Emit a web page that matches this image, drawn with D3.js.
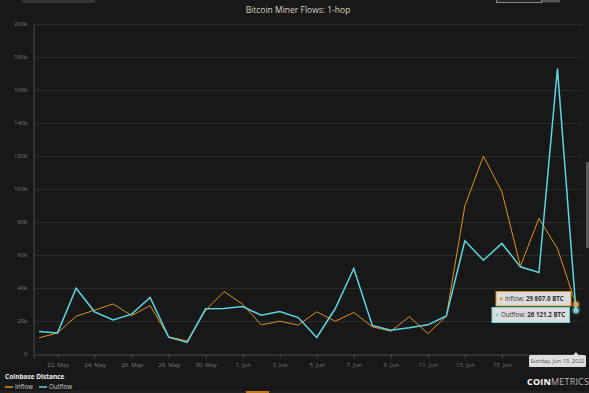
<!DOCTYPE html>
<html>
<head>
<meta charset="utf-8">
<script src="https://cdn.jsdelivr.net/npm/d3@7"></script>
<style>
  html, body { margin: 0; padding: 0; background: #181818; }
  svg { display: block; font-family: "Open Sans", "DejaVu Sans", sans-serif; }
</style>
</head>
<body>
<svg id="chart" width="589" height="393"></svg>
<script>
// Bitcoin miner flows (1-hop), daily, 21 May – 19 Jun 2022
const startDate = '2022-05-21';
const inflow = [9500, 12500, 22600, 26300, 30100, 23000, 29100, 10100, 7700, 26300,
  37600, 29900, 17400, 19600, 17300, 25300, 19600, 24900, 16200, 13500,
  22400, 12100, 22600, 89600, 119800, 98100, 53000, 82000, 63700, 29807.0];
const outflow = [13300, 12500, 39600, 25300, 20400, 23900, 34000, 9900, 6700, 27100,
  27300, 28500, 23200, 25500, 21800, 9700, 27300, 51600, 17000, 14100,
  15600, 17400, 22800, 68400, 56600, 66800, 52600, 49200, 173000, 26121.2];
const yTicks = [0, 20000, 40000, 60000, 80000, 100000, 120000, 140000, 160000, 180000, 200000];
const seriesNames = ['Inflow', 'Outflow'];
const seriesColors = ['#e0901c', '#5cd6e2'];

const DAY = 864e5;
const t0 = new Date(startDate + 'T00:00:00Z');
const dates = inflow.map((_, i) => new Date(t0.getTime() + i * DAY));

const svg = d3.select('#chart');
const W = 589, H = 393;
const margin = { left: 33.5, right: 7.5, top: 24, bottom: 39.5 };

svg.append('rect').attr('width', W).attr('height', H).attr('fill', '#181818');

const x = d3.scaleUtc()
  .domain([new Date(dates[0] - 0.3 * DAY), new Date(+dates[dates.length - 1] + 0.3 * DAY)])
  .range([margin.left, W - margin.right]);
const y = d3.scaleLinear()
  .domain([0, 200000])
  .range([H - margin.bottom, margin.top]);

// top chrome
svg.append('rect').attr('x', 22).attr('y', -1).attr('width', 73).attr('height', 4).attr('fill', '#343434');
svg.append('rect').attr('x', 496.5).attr('y', -1).attr('width', 45).attr('height', 3.5)
  .attr('fill', '#262626').attr('stroke', '#8a8a8a').attr('stroke-width', 1);
svg.append('rect').attr('x', 542).attr('y', -1).attr('width', 18).attr('height', 3.5).attr('fill', '#555');
// scrollbar
svg.append('rect').attr('x', 586).attr('y', 162).attr('width', 3).attr('height', 86).attr('fill', '#5a5a5a');

// title
svg.append('text')
  .attr('x', 298).attr('y', 13)
  .attr('text-anchor', 'middle')
  .attr('fill', '#d9d4c2')
  .style('font-size', '8.5px')
  .text('Bitcoin Miner Flows: 1-hop');

// gridlines
svg.append('g')
  .selectAll('line')
  .data(yTicks.slice(1))
  .join('line')
  .attr('x1', margin.left).attr('x2', W - margin.right)
  .attr('y1', d => Math.round(y(d)) + 0.5).attr('y2', d => Math.round(y(d)) + 0.5)
  .attr('stroke', '#2b2b2b').attr('stroke-width', 1);

// y axis
const yAxis = svg.append('g')
  .attr('transform', `translate(${margin.left},0)`)
  .call(d3.axisLeft(y).tickValues(yTicks).tickSize(0).tickPadding(6)
    .tickFormat(d => d === 0 ? '0' : (d / 1000) + 'k'));
yAxis.select('.domain').attr('stroke', '#4a4a4a');
yAxis.selectAll('text').attr('fill', '#7a7a7a').style('font-size', '6px')
  .style('font-family', '"Open Sans", sans-serif');

// x axis (labels under the date tooltip are hidden, as in the source)
const last = dates.length - 1;
const xTicks = d3.range(1, dates.length, 2).map(i => dates[i]);
const hideFrom = dates[last - 2];
const fmtDay = d3.utcFormat('%-d');
const fmtMon = d3.utcFormat('%b');
const xAxis = svg.append('g')
  .attr('transform', `translate(0,${Math.round(y(0)) + 0.5})`)
  .call(d3.axisBottom(x).tickValues(xTicks).tickSize(4).tickPadding(4)
    .tickFormat(d => d >= hideFrom ? '' : fmtDay(d) + '. ' + fmtMon(d)));
xAxis.select('.domain').attr('stroke', '#4a4a4a');
xAxis.selectAll('.tick line').attr('stroke', '#4a4a4a');
xAxis.selectAll('text').attr('fill', '#7a7a7a').style('font-size', '6px')
  .style('font-family', '"Open Sans", sans-serif');

// lines
const line = d3.line().x((d, i) => x(dates[i])).y(d => y(d));
[inflow, outflow].forEach((series, k) => {
  svg.append('path')
    .datum(series)
    .attr('fill', 'none')
    .attr('stroke', seriesColors[k])
    .attr('stroke-width', k === 0 ? 1 : 1.5)
    .attr('stroke-linejoin', 'miter')
    .attr('d', line);
});

// hover markers on last point
[inflow, outflow].forEach((series, k) => {
  svg.append('circle').attr('cx', x(dates[last])).attr('cy', y(series[last]))
    .attr('r', 4.5).attr('fill', seriesColors[k]).attr('opacity', 0.3);
  svg.append('circle').attr('cx', x(dates[last])).attr('cy', y(series[last]))
    .attr('r', 2.2).attr('fill', seriesColors[k]).attr('stroke', '#fff').attr('stroke-width', 0.6);
});

// tooltips
const fmtNum = v => d3.format(',.1f')(v).replace(/,/g, ' ');
const tips = [
  { x: 496, y: 291.5, w: 75, h: 14.5, name: seriesNames[0], v: inflow[last], c: seriesColors[0] },
  { x: 492, y: 307.5, w: 77.5, h: 15, name: seriesNames[1], v: outflow[last], c: seriesColors[1] }
];
tips.forEach(t => {
  const g = svg.append('g');
  g.append('rect').attr('x', t.x).attr('y', t.y).attr('width', t.w).attr('height', t.h)
    .attr('fill', '#dcdcdc').attr('stroke', t.c).attr('stroke-width', 1);
  g.append('circle').attr('cx', t.x + 5).attr('cy', t.y + t.h / 2).attr('r', 1.5).attr('fill', t.c);
  const tx = g.append('text').attr('x', t.x + 9).attr('y', t.y + t.h / 2 + 2.2)
    .attr('fill', '#333').style('font-size', '6.2px');
  tx.append('tspan').text(t.name + ': ');
  tx.append('tspan').attr('font-weight', 'bold').text(fmtNum(t.v) + ' BTC');
});

// date label
const dx = x(dates[last]);
svg.append('rect').attr('x', 529).attr('y', 355).attr('width', 57).attr('height', 12)
  .attr('rx', 1.5).attr('fill', '#dedede');
svg.append('path').attr('d', `M${dx - 2.5},355 L${dx},352 L${dx + 2.5},355 Z`).attr('fill', '#dedede');
svg.append('text').attr('x', 557.5).attr('y', 363.3).attr('text-anchor', 'middle')
  .attr('fill', '#555').style('font-size', '5.6px')
  .text(d3.utcFormat('%A, %b %-d, %Y')(dates[last]));

// legend
svg.append('text').attr('x', 5).attr('y', 379).attr('fill', '#f0f0f0')
  .attr('font-weight', 'bold').style('font-size', '6.5px').text('Coinbase Distance');
const legend = svg.append('g').selectAll('g').data(seriesNames).join('g')
  .attr('transform', (d, i) => `translate(${i === 0 ? 5 : 39},389)`);
legend.append('line').attr('x1', 0).attr('x2', 8).attr('y1', -2).attr('y2', -2)
  .attr('stroke', (d, i) => seriesColors[i]).attr('stroke-width', 1.5);
legend.append('text').attr('x', 10).attr('y', 0).attr('fill', '#cfcfcf')
  .style('font-size', '6.2px').text(d => d);

// bottom strip
svg.append('rect').attr('x', 0).attr('y', 391).attr('width', W).attr('height', 2).attr('fill', '#222');
svg.append('rect').attr('x', 246).attr('y', 391).attr('width', 23).attr('height', 2).attr('fill', '#c87a10');

// logo
const logo = svg.append('text').attr('x', 527).attr('y', 384.5)
  .style('font-size', '9px').style('letter-spacing', '0.2px');
logo.append('tspan').attr('fill', '#ffffff').attr('font-weight', 'bold').text('COIN');
logo.append('tspan').attr('fill', '#b8b8b8').text('METRICS');
</script>
</body>
</html>
